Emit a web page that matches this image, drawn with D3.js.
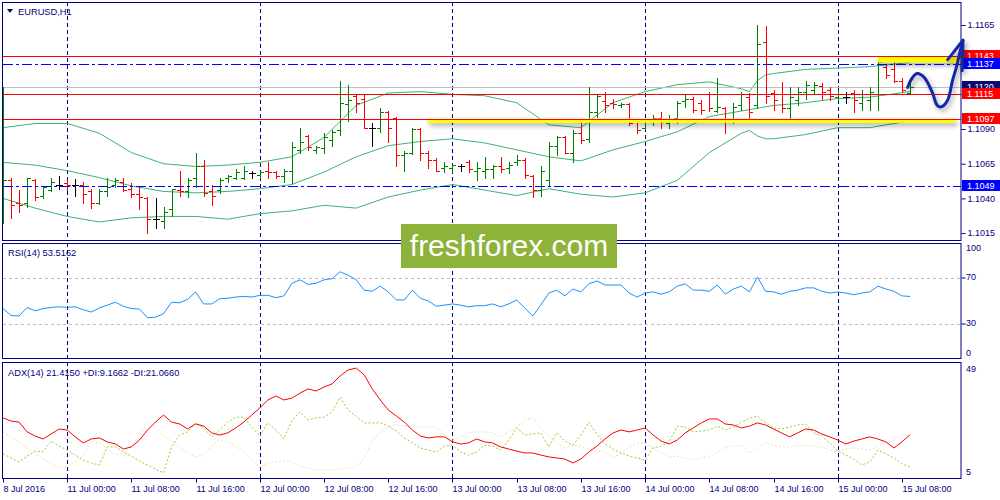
<!DOCTYPE html>
<html>
<head>
<meta charset="utf-8">
<script src="https://cdn.jsdelivr.net/npm/d3@7"></script>
<style>
  body { margin: 0; background: #fff; }
  svg { display: block; font-family: "Liberation Sans", Arial, sans-serif; }
</style>
</head>
<body>
<div id="chart"></div>
<script>
// EURUSD H1 bars, 8 Jul 16:00 .. 15 Jul 09:00
const opens = [1.1032,1.1053,1.1037,1.1037,1.1053,1.1042,1.1046,1.1050,1.1051,1.1050,
  1.1050,1.1045,1.1037,1.1045,1.1050,1.1052,1.1047,1.1043,1.1040,1.1025,
  1.1024,1.1032,1.1046,1.1045,1.1055,1.1063,1.1045,1.1046,1.1055,1.1055,
  1.1055,1.1058,1.1057,1.1060,1.1059,1.1056,1.1060,1.1075,1.1085,1.1075,
  1.1076,1.1082,1.1089,1.1108,1.1114,1.1112,1.1091,1.1091,1.1102,1.1098,
  1.1071,1.1073,1.1090,1.1073,1.1068,1.1062,1.1062,1.1063,1.1066,1.1060,
  1.1060,1.1061,1.1063,1.1062,1.1066,1.1068,1.1056,1.1046,1.1053,1.1078,
  1.1084,1.1073,1.1087,1.1083,1.1102,1.1110,1.1109,1.1107,1.1108,1.1096,
  1.1091,1.1096,1.1098,1.1094,1.1098,1.1110,1.1112,1.1109,1.1115,1.1103,
  1.1105,1.1097,1.1107,1.1113,1.1107,1.1153,1.1116,1.1115,1.1105,1.1111,
  1.1117,1.1118,1.1121,1.1118,1.1113,1.1113,1.1116,1.1109,1.1111,1.1115,
  1.1135,1.1133,1.1125,1.1116];
const highs = [1.1120,1.1055,1.1046,1.1055,1.1054,1.1048,1.1055,1.1056,1.1053,1.1054,
  1.1052,1.1047,1.1047,1.1055,1.1055,1.1055,1.1051,1.1048,1.1041,1.1040,
  1.1034,1.1047,1.1060,1.1055,1.1073,1.1068,1.1050,1.1055,1.1057,1.1061,
  1.1063,1.1060,1.1060,1.1066,1.1060,1.1061,1.1081,1.1091,1.1086,1.1078,
  1.1087,1.1089,1.1125,1.1122,1.1115,1.1115,1.1094,1.1105,1.1103,1.1099,
  1.1074,1.1091,1.1091,1.1074,1.1069,1.1066,1.1065,1.1065,1.1068,1.1066,
  1.1070,1.1064,1.1070,1.1066,1.1071,1.1069,1.1057,1.1063,1.1081,1.1085,
  1.1085,1.1089,1.1094,1.1120,1.1115,1.1117,1.1112,1.1109,1.1109,1.1097,
  1.1096,1.1100,1.1102,1.1100,1.1110,1.1115,1.1113,1.1111,1.1117,1.1127,
  1.1106,1.1109,1.1117,1.1116,1.1165,1.1164,1.1118,1.1124,1.1120,1.1120,
  1.1125,1.1124,1.1123,1.1120,1.1118,1.1117,1.1118,1.1118,1.1120,1.1140,
  1.1136,1.1138,1.1127,1.1123];
const lows = [1.1022,1.1026,1.1030,1.1034,1.1039,1.1040,1.1045,1.1047,1.1046,1.1042,
  1.1037,1.1033,1.1036,1.1042,1.1048,1.1045,1.1041,1.1032,1.1015,1.1019,
  1.1019,1.1027,1.1042,1.1041,1.1048,1.1042,1.1035,1.1044,1.1052,1.1054,
  1.1054,1.1055,1.1055,1.1055,1.1055,1.1052,1.1051,1.1073,1.1075,1.1073,
  1.1073,1.1078,1.1086,1.1096,1.1102,1.1091,1.1078,1.1088,1.1081,1.1063,
  1.1060,1.1072,1.1068,1.1062,1.1060,1.1059,1.1059,1.1060,1.1059,1.1053,
  1.1055,1.1055,1.1059,1.1058,1.1064,1.1055,1.1041,1.1042,1.1049,1.1071,
  1.1073,1.1066,1.1080,1.1081,1.1099,1.1102,1.1105,1.1106,1.1093,1.1087,
  1.1090,1.1093,1.1091,1.1091,1.1094,1.1106,1.1102,1.1101,1.1103,1.1102,
  1.1087,1.1094,1.1104,1.1096,1.1105,1.1109,1.1104,1.1102,1.1098,1.1107,
  1.1112,1.1115,1.1112,1.1111,1.1111,1.1109,1.1102,1.1104,1.1104,1.1104,
  1.1127,1.1124,1.1117,1.1115];
const closes = [1.1053,1.1035,1.1035,1.1055,1.1041,1.1048,1.1052,1.1050,1.1050,1.1050,
  1.1043,1.1037,1.1045,1.1048,1.1053,1.1046,1.1043,1.1041,1.1025,1.1025,
  1.1030,1.1047,1.1045,1.1053,1.1063,1.1044,1.1042,1.1053,1.1056,1.1059,
  1.1060,1.1058,1.1059,1.1059,1.1056,1.1060,1.1077,1.1081,1.1077,1.1077,
  1.1084,1.1088,1.1109,1.1111,1.1109,1.1091,1.1091,1.1102,1.1091,1.1071,
  1.1073,1.1090,1.1073,1.1068,1.1060,1.1063,1.1064,1.1063,1.1061,1.1062,
  1.1061,1.1063,1.1061,1.1064,1.1068,1.1057,1.1046,1.1060,1.1078,1.1084,
  1.1073,1.1087,1.1082,1.1102,1.1114,1.1107,1.1108,1.1108,1.1094,1.1089,
  1.1096,1.1098,1.1095,1.1096,1.1109,1.1112,1.1104,1.1104,1.1105,1.1106,
  1.1096,1.1106,1.1115,1.1102,1.1151,1.1114,1.1111,1.1105,1.1113,1.1117,
  1.1122,1.1122,1.1117,1.1114,1.1115,1.1113,1.1111,1.1115,1.1117,1.1138,
  1.1129,1.1125,1.1118,1.1120];

// Bollinger bands read at these bar indices
const bbIdx = [0,4,8,12,16,20,24,28,32,36,40,44,48,52,56,60,64,68,72,76,80,84,88,92,93,94,95,96,100,104,108,113];
const bbUpper = [1.1091,1.1094,1.1094,1.1087,1.1073,1.1065,1.1063,1.1064,1.1066,1.1070,1.1084,1.1107,1.1116,1.1117,1.1115,1.1114,
  1.1109,1.1093,1.1091,1.1109,1.1117,1.1122,1.1124,1.1119,1.1117,1.1125,1.1129,1.1130,1.1133,1.1134,1.1135,1.1138];
const bbMiddle = [1.1066,1.1064,1.1060,1.1055,1.1049,1.1045,1.1044,1.1045,1.1047,1.1050,1.1059,1.1070,1.1078,1.1081,1.1083,1.1080,
  1.1075,1.1070,1.1067,1.1075,1.1081,1.1088,1.1099,1.1103,1.1104,1.1105,1.1106,1.1107,1.1109,1.1112,1.1113,1.1117];
const bbLower = [1.1040,1.1033,1.1027,1.1023,1.1026,1.1027,1.1027,1.1025,1.1029,1.1031,1.1035,1.1033,1.1041,1.1046,1.1050,1.1046,
  1.1042,1.1047,1.1043,1.1041,1.1044,1.1053,1.1073,1.1087,1.1089,1.1085,1.1083,1.1083,1.1086,1.1091,1.1091,1.1096];

const rsi = [43,37,36.5,44,41,43,44,44.5,44,44.5,42,40,43.5,46,48.5,45,43,42.5,35,35.5,
  38.5,48.5,48,51,57.5,47,47,51.5,52,53,53.5,53,54.5,54.5,52.5,54,65,68,64,65,
  68,69,75,72,68,59,58,62.5,57.5,50.5,50.5,59,52,49.5,45,46,47,46,44.5,45.5,
  45.5,47,44.5,47,50.5,43.5,36.5,46,56.5,59,54,60,57.5,64.5,67,63.5,63.5,63.5,56.5,53,
  56.5,57.5,55.5,57.5,62.5,64.5,59,59,58,63.5,55.5,60,62.5,57.5,70.5,58,57.5,55.5,58,59,
  61,61,58,56.5,57.5,56.5,55,56.5,57.5,62.5,60,58,54,53.5];

const adx = [27.8,26.6,26.2,22.5,20.9,19.8,21.7,23.6,23.2,20.6,18.3,19.8,20.2,18.7,17.9,16.0,16.8,19.4,23.2,26.2,
  28.9,26.2,25.5,23.6,25.5,24.7,22.1,21.3,22.1,24.0,26.2,28.9,31.6,34.6,36.1,34.6,35.3,37.2,38.8,38.0,
  39.5,40.7,43.7,46.0,46.7,44.1,38.8,34.6,30.8,28.5,26.2,23.2,20.9,20.2,20.6,20.6,18.7,17.9,18.3,19.8,
  18.7,18.3,16.8,16.0,15.2,14.5,14.5,13.7,13.0,12.6,12.2,10.7,12.2,14.9,17.1,19.8,22.1,23.2,22.5,23.2,
  24.0,21.3,19.0,17.9,19.4,22.1,24.0,25.9,27.4,27.4,25.5,25.1,24.0,24.7,25.9,25.1,23.6,22.1,20.6,22.1,
  23.6,23.2,21.7,20.6,19.4,17.9,19.0,19.8,20.6,19.8,18.7,16.4,18.7,21.4];
const plusDi = [14.1,12.6,11.1,13.3,15.2,14.9,19.0,17.1,15.6,13.7,11.8,10.7,9.9,16.8,16.8,14.9,13.3,11.4,9.9,8.4,
  6.9,16.8,21.3,22.5,25.9,24.0,20.6,23.2,26.2,28.1,28.1,24.3,20.9,25.9,23.2,19.8,27.0,30.0,27.0,27.8,
  28.1,30.0,35.7,30.8,28.5,25.9,25.9,25.9,24.7,22.8,20.2,18.3,16.4,15.6,14.9,17.1,17.5,14.9,13.7,14.9,
  17.5,17.1,15.6,19.4,24.0,21.3,21.7,22.1,16.8,22.1,19.0,17.5,21.3,26.2,21.7,17.9,16.0,14.5,13.3,12.6,
  11.8,16.4,17.1,18.7,24.7,24.3,22.5,22.8,23.2,24.7,23.2,24.3,26.2,27.8,28.5,25.9,24.0,23.6,24.3,25.1,
  25.5,22.1,20.9,18.3,15.2,13.7,12.2,9.9,11.1,15.6,14.1,12.6,10.3,9.2];
const minusDi = [22.5,20.6,18.7,16.4,14.1,12.2,10.3,8.8,9.2,11.4,13.7,19.0,18.3,16.0,13.7,14.9,17.1,20.9,26.6,23.6,
  20.9,19.0,16.4,14.5,13.0,13.7,17.1,19.4,18.7,17.1,14.9,12.2,9.2,10.7,11.1,11.4,11.1,9.6,8.8,8.0,
  8.0,8.0,8.4,8.8,9.2,12.6,19.0,22.5,24.3,25.1,24.7,24.3,24.3,24.3,24.3,21.3,19.4,20.6,22.1,22.5,
  22.5,22.1,20.6,22.5,24.3,27.0,27.8,24.0,20.9,18.3,16.4,17.5,17.1,15.6,15.2,14.9,13.0,14.1,16.8,17.9,
  18.3,16.4,14.5,13.0,13.3,12.6,11.8,12.6,13.0,14.9,16.4,17.1,17.5,14.5,16.4,18.3,17.5,16.8,16.8,17.1,
  17.5,17.1,16.8,15.6,14.9,16.0,16.4,16.0,15.6,17.1,18.3,19.8,21.3,21.1];

// axis ticks and labels
const priceTicks = [1.1015, 1.1040, 1.1065, 1.1090, 1.1115, 1.1140, 1.1165];
const rsiTicks = [100, 70, 30, 0];
const rsiLevels = [70, 30];
const adxTicks = [49, 5];
const timeTickIdx = [0, 8, 16, 24, 32, 40, 48, 56, 64, 72, 80, 88, 96, 104, 112];
const timeTickLabels = ['8 Jul 2016', '11 Jul 00:00', '11 Jul 08:00', '11 Jul 16:00', '12 Jul 00:00',
  '12 Jul 08:00', '12 Jul 16:00', '13 Jul 00:00', '13 Jul 08:00', '13 Jul 16:00', '14 Jul 00:00',
  '14 Jul 08:00', '14 Jul 16:00', '15 Jul 00:00', '15 Jul 08:00'];
const daySeparators = [8, 32, 56, 80, 104];

// horizontal levels
const redLevels = [1.1143, 1.1115, 1.1097];
const blueLevels = [1.1137, 1.1049];
const bidPrice = 1.1120;

// highlighter marks and hand drawn arrow (bar index, price)
const markStart = [109, 52.9];
const markEnd = [119.6, 118.6];
const markTop = [1.11425, 1.10975];
const markBottom = [1.1138, 1.10945];
const curveIdx = [112.7, 113.3, 113.9, 114.8, 115.8, 116.4, 116.9, 117.7, 118.3, 118.8, 119.2, 119.6];
const curvePrice = [1.1120, 1.1127, 1.1130, 1.1127, 1.1116, 1.1107, 1.1106, 1.1111, 1.1125, 1.1135, 1.1145, 1.1154];
const arrowIdx = [117.7, 119.6, 119.5];
const arrowPrice = [1.1140, 1.1154, 1.1132];

const navy = '#000080';
const W = 1000, H = 500, right = 961;

const x = d3.scaleLinear().domain([0, 113]).range([3, 910]);
const yPrice = d3.scaleLinear().domain([1.1010, 1.11816]).range([240, 2]);
const yRsi = d3.scaleLinear().domain([0, 100]).range([358, 243]);
const yAdx = d3.scaleLinear().domain([5, 49]).range([478, 362]);

const svg = d3.select('#chart').append('svg').attr('width', W).attr('height', H);

const defs = svg.append('defs');
defs.append('filter').attr('id', 'shadow')
  .attr('x', '-50%').attr('y', '-300%').attr('width', '200%').attr('height', '700%')
  .append('feDropShadow').attr('dx', 2).attr('dy', 3).attr('stdDeviation', 2.5)
  .attr('flood-color', '#000').attr('flood-opacity', 0.35);

const panes = [yPrice, yRsi, yAdx];
panes.forEach((s, k) => {
  const [b, t] = s.range();
  defs.append('clipPath').attr('id', 'clip' + k)
    .append('rect').attr('x', 3).attr('y', t + 1).attr('width', right - 3).attr('height', b - t - 1);
});

const px = v => Math.round(v) + 0.5;

// day separators
panes.forEach(s => {
  const [b, t] = s.range();
  svg.append('g').selectAll('line').data(daySeparators).join('line')
    .attr('x1', d => px(x(d))).attr('x2', d => px(x(d)))
    .attr('y1', t).attr('y2', b)
    .attr('stroke', navy).attr('stroke-dasharray', '4,3');
});

// ---- main pane
const main = svg.append('g').attr('clip-path', 'url(#clip0)');

const bbLine = arr => d3.line()
  .x((d, i) => x(bbIdx[i])).y(d => yPrice(d))(arr);
[bbUpper, bbMiddle, bbLower].forEach(arr => {
  main.append('path').attr('d', bbLine(arr))
    .attr('fill', 'none').attr('stroke', '#3cb371').attr('stroke-width', 1);
});

// bid line
main.append('line')
  .attr('x1', 3).attr('x2', right).attr('y1', px(yPrice(bidPrice))).attr('y2', px(yPrice(bidPrice)))
  .attr('stroke', '#c0c0c0');

const bars = d3.range(opens.length).map(i => ({ i, o: opens[i], h: highs[i], l: lows[i], c: closes[i] }));
const barColor = d => d.c > d.o ? '#008000' : d.c < d.o ? '#ff0000' : '#000000';
const gBars = main.append('g').attr('shape-rendering', 'crispEdges');
const bx = d => Math.round(x(d.i));
gBars.selectAll('rect.hl').data(bars).join('rect').attr('class', 'hl')
  .attr('x', bx).attr('y', d => Math.round(yPrice(d.h)))
  .attr('width', 1).attr('height', d => Math.round(yPrice(d.l)) - Math.round(yPrice(d.h)) + 1)
  .attr('fill', barColor);
gBars.selectAll('rect.op').data(bars).join('rect').attr('class', 'op')
  .attr('x', d => bx(d) - 3).attr('y', d => Math.round(yPrice(d.o)))
  .attr('width', 3).attr('height', 1).attr('fill', barColor);
gBars.selectAll('rect.cl').data(bars).join('rect').attr('class', 'cl')
  .attr('x', d => bx(d) + 1).attr('y', d => Math.round(yPrice(d.c)))
  .attr('width', 3).attr('height', 1).attr('fill', barColor);

// highlighter strokes
main.append('g').attr('filter', 'url(#shadow)')
  .selectAll('rect').data(markStart).join('rect')
  .attr('x', (d, i) => x(d)).attr('width', (d, i) => x(markEnd[i]) - x(d))
  .attr('y', (d, i) => yPrice(markTop[i])).attr('height', (d, i) => yPrice(markBottom[i]) - yPrice(markTop[i]))
  .attr('fill', '#ffff00');

// level lines
main.append('g').selectAll('line').data(redLevels).join('line')
  .attr('x1', 3).attr('x2', right).attr('y1', d => px(yPrice(d))).attr('y2', d => px(yPrice(d)))
  .attr('stroke', '#ff0000');
main.append('g').selectAll('line').data(blueLevels).join('line')
  .attr('x1', 3).attr('x2', right).attr('y1', d => px(yPrice(d))).attr('y2', d => px(yPrice(d)))
  .attr('stroke', '#0000ff').attr('stroke-dasharray', '10,3,3,3');

svg.append('path').attr('d', 'M7,9L13,9L10,13Z').attr('fill', navy);
svg.append('text').attr('x', 18).attr('y', 15).attr('font-size', 9.3).attr('fill', navy).text('EURUSD,H1');

// ---- RSI pane
const rsiG = svg.append('g').attr('clip-path', 'url(#clip1)');
rsiG.append('g').selectAll('line').data(rsiLevels).join('line')
  .attr('x1', 3).attr('x2', right).attr('y1', d => px(yRsi(d))).attr('y2', d => px(yRsi(d)))
  .attr('stroke', '#c0c0c0').attr('stroke-dasharray', '3,3');
rsiG.append('path')
  .attr('d', d3.line().x((d, i) => x(i)).y(d => yRsi(d))(rsi))
  .attr('fill', 'none').attr('stroke', '#1e90ff').attr('stroke-width', 1);
svg.append('text').attr('x', 8).attr('y', 256).attr('font-size', 9.3).attr('fill', navy).text('RSI(14) 53.5162');

// ---- ADX pane
const adxG = svg.append('g').attr('clip-path', 'url(#clip2)');
const adxLine = d3.line().x((d, i) => x(i)).y(d => yAdx(d));
adxG.append('path').attr('d', adxLine(minusDi))
  .attr('fill', 'none').attr('stroke', '#f5deb3').attr('stroke-dasharray', '2,2');
adxG.append('path').attr('d', adxLine(plusDi))
  .attr('fill', 'none').attr('stroke', '#9acd32').attr('stroke-dasharray', '2,2');
adxG.append('path').attr('d', adxLine(adx))
  .attr('fill', 'none').attr('stroke', '#ff0000');
svg.append('text').attr('x', 8).attr('y', 376).attr('font-size', 9.3).attr('fill', navy)
  .text('ADX(14) 21.4150 +DI:9.1662 -DI:21.0660');

// pane frames
panes.forEach(s => {
  const [b, t] = s.range();
  svg.append('rect').attr('x', 2.5).attr('y', t + 0.5).attr('width', right - 2.5).attr('height', b - t)
    .attr('fill', 'none').attr('stroke', navy);
});

// ---- axes
const styleAxis = g => {
  g.select('.domain').remove();
  g.selectAll('line').attr('stroke', navy);
  g.selectAll('text').attr('fill', navy).attr('font-size', 9)
    .attr('font-family', '"Liberation Sans", Arial, sans-serif');
};
svg.append('g').attr('transform', `translate(${right + 0.5},0)`)
  .call(d3.axisRight(yPrice).tickValues(priceTicks).tickFormat(d3.format('.4f')).tickSize(4).tickPadding(2))
  .call(styleAxis);
svg.append('g').attr('transform', `translate(${right + 0.5},0)`)
  .call(d3.axisRight(yRsi).tickValues(rsiLevels).tickFormat('').tickSize(4))
  .call(styleAxis);
svg.append('g').selectAll('text').data(rsiTicks).join('text')
  .attr('x', right + 5).attr('y', d => d === 100 ? yRsi(d) + 5 : d === 0 ? yRsi(d) - 5 : yRsi(d))
  .attr('dy', '0.32em').attr('font-size', 9).attr('fill', navy).text(d => d);
svg.append('g').selectAll('text').data(adxTicks).join('text')
  .attr('x', right + 5).attr('y', (d, i) => i === 0 ? yAdx(d) + 7 : yAdx(d) - 6)
  .attr('dy', '0.32em').attr('font-size', 9).attr('fill', navy).text(d => d);

const xAxis = svg.append('g').attr('transform', `translate(0,${yAdx.range()[0] + 0.5})`)
  .call(d3.axisBottom(x).tickValues(timeTickIdx).tickFormat((d, i) => timeTickLabels[i]).tickSize(4).tickPadding(3))
  .call(styleAxis);
xAxis.selectAll('g.tick').attr('transform', d => `translate(${px(x(d))},0)`);
xAxis.selectAll('text').attr('text-anchor', 'start').attr('dx', 0);

// price labels on the scale
const priceLabel = (vals, bg) => {
  const g = svg.append('g').selectAll('g').data(vals).join('g')
    .attr('transform', d => `translate(${right + 1},${Math.round(yPrice(d)) - 6})`);
  g.append('rect').attr('width', W - right).attr('height', 11).attr('fill', bg);
  g.append('text').attr('x', 5).attr('y', 9).attr('font-size', 9).attr('fill', '#fff')
    .text(d => d3.format('.4f')(d));
};
priceLabel([bidPrice], '#0a0a70');
priceLabel(redLevels, '#ff0000');
priceLabel(blueLevels, '#0000ff');

// hand drawn forecast arrow
const annot = svg.append('g').attr('filter', 'url(#shadow)')
  .attr('fill', 'none').attr('stroke', '#1428a8').attr('stroke-width', 3)
  .attr('stroke-linecap', 'round').attr('stroke-linejoin', 'round');
annot.append('path')
  .attr('d', d3.line().curve(d3.curveCatmullRom).x((d, i) => x(d)).y((d, i) => yPrice(curvePrice[i]))(curveIdx));
annot.append('path')
  .attr('d', d3.line().x((d, i) => x(d)).y((d, i) => yPrice(arrowPrice[i]))(arrowIdx));

// watermark
const wm = svg.append('g');
wm.append('rect').attr('x', 401).attr('y', 224).attr('width', 216).attr('height', 44).attr('fill', '#8db33a');
wm.append('text').attr('x', 509).attr('y', 256).attr('text-anchor', 'middle')
  .attr('font-size', 30).attr('fill', '#fff').text('freshforex.com');
</script>
</body>
</html>
